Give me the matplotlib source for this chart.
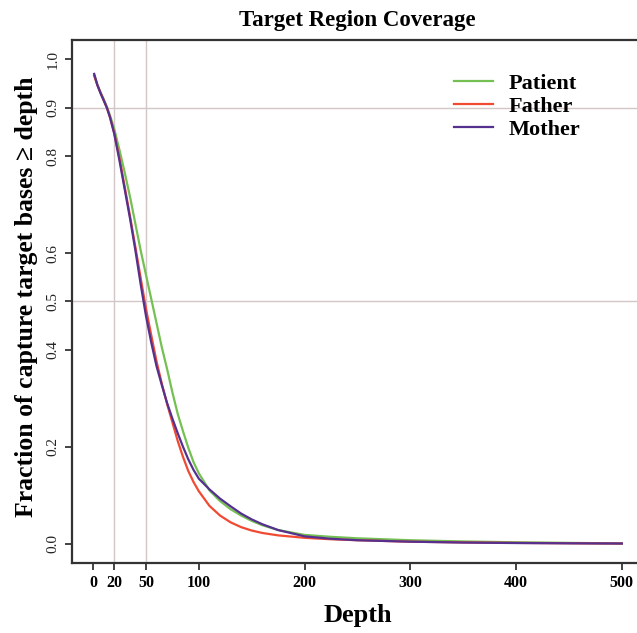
import matplotlib
matplotlib.use("Agg")
import matplotlib.pyplot as plt

plt.rcParams['font.family'] = ['Liberation Serif', 'DejaVu Serif']

# coverage fraction (depth -> fraction >= depth)
depth = [1, 4, 7, 10, 13, 16, 20, 25, 30, 35, 40, 45, 50, 55, 60, 65, 70, 75,
         80, 85, 90, 95, 100, 110, 120, 130, 140, 150, 160, 175, 200, 225,
         250, 300, 350, 400, 450, 500]

patient = [0.968, 0.948, 0.932, 0.918, 0.902, 0.884, 0.856, 0.812, 0.765,
           0.715, 0.660, 0.605, 0.555, 0.505, 0.455, 0.405, 0.360, 0.312,
           0.268, 0.232, 0.198, 0.168, 0.145, 0.110, 0.088, 0.071, 0.058,
           0.047, 0.038, 0.028, 0.018, 0.014, 0.011, 0.007, 0.0045, 0.0028,
           0.0015, 0.0005]

father = [0.966, 0.947, 0.931, 0.916, 0.900, 0.880, 0.848, 0.795, 0.735,
          0.675, 0.612, 0.548, 0.485, 0.430, 0.376, 0.330, 0.288, 0.250,
          0.212, 0.179, 0.150, 0.127, 0.108, 0.078, 0.058, 0.044, 0.034,
          0.027, 0.022, 0.017, 0.012, 0.009, 0.007, 0.004, 0.0025, 0.0015,
          0.0008, 0.0002]

mother = [0.970, 0.947, 0.930, 0.915, 0.900, 0.880, 0.846, 0.790, 0.730,
          0.670, 0.605, 0.535, 0.470, 0.415, 0.366, 0.327, 0.290, 0.258,
          0.228, 0.200, 0.174, 0.152, 0.134, 0.112, 0.093, 0.077, 0.062,
          0.050, 0.040, 0.028, 0.015, 0.010, 0.007, 0.004, 0.0022, 0.0012,
          0.0006, 0.0002]

xticks = [0, 20, 50, 100, 200, 300, 400, 500]
yticks = [0.0, 0.2, 0.4, 0.5, 0.6, 0.8, 0.9, 1.0]
vlines = [20, 50]
hlines = [0.9, 0.5]

fig = plt.figure(figsize=(6.37, 6.33), dpi=100)
ax = fig.add_axes([0.113, 0.1106, 0.8964, 0.8262])

grid_col = '#d3c6c6'
for v in vlines:
    ax.axvline(v, color=grid_col, lw=1, zorder=1)
for h in hlines:
    ax.axhline(h, color=grid_col, lw=1, zorder=1)

ax.plot(depth, patient, color='#74c052', lw=1.6, label='Patient', zorder=3)
ax.plot(depth, father, color='#f04a33', lw=1.6, label='Father', zorder=3)
ax.plot(depth, mother, color='#56308f', lw=1.6, label='Mother', zorder=4)

ax.set_xlim(-20, 520)
ax.set_ylim(-0.04, 1.04)

ax.set_xticks(xticks)
ax.set_xticklabels([str(t) for t in xticks], fontweight='bold', fontsize=11.5)
ax.set_yticks(yticks)
ax.set_yticklabels(['%.1f' % t for t in yticks], fontsize=11, rotation=90,
                   va='center', color='#222222')
ax.tick_params(direction='out', length=5, width=1.2, color='#222222', pad=4)

for s in ax.spines.values():
    s.set_linewidth(1.6)
    s.set_color('#333333')

ax.set_title('Target Region Coverage', fontsize=16.5, fontweight='bold', pad=10)
ax.set_xlabel('Depth', fontsize=19, fontweight='bold', labelpad=9)
ax.set_ylabel('Fraction of capture target bases \u2265 depth', fontsize=18.5,
              fontweight='bold')
ax.yaxis.set_label_coords(-0.06, 0.51)

ax.legend(loc='upper left', bbox_to_anchor=(0.653, 0.953), frameon=False,
          handlelength=1.75, handletextpad=0.7,
          labelspacing=0.1, borderaxespad=0,
          prop={'weight': 'bold', 'size': 16})

fig.savefig('out.png', dpi=100)
